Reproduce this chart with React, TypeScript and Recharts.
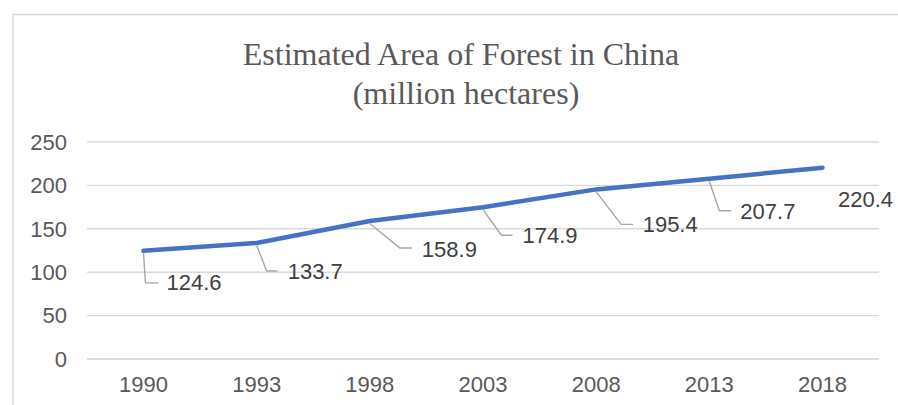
import React from "react";
import { LineChart, Line, XAxis, YAxis, CartesianGrid } from "recharts";

const years = ["1990", "1993", "1998", "2003", "2008", "2013", "2018"];
const forestArea = [124.6, 133.7, 158.9, 174.9, 195.4, 207.7, 220.4];
const yTicks = [0, 50, 100, 150, 200, 250];
const titleLines = ["Estimated Area of Forest in China", "(million hectares)"];

const data = years.map((year, i) => ({ year, area: forestArea[i] }));

// Label layout relative to each computed point: [elbowDx, elbowDy, lineEndDx, textDx, textDy, showLeader]
const labelLayout: [number, number, number, number, number, boolean][] = [
  [2, 32, 15, 23, 32, true],
  [10, 28, 21, 31, 29, true],
  [30, 27, 42, 52, 28, true],
  [18.5, 28, 29.5, 39.5, 28, true],
  [25, 35, 37, 46.5, 35.5, true],
  [10, 32, 22, 31, 33, true],
  [0, 0, 0, 15.5, 31.5, false],
];

const SANS = "'Liberation Sans', Arial, sans-serif";
const SERIF = "'Liberation Serif', 'Times New Roman', serif";

const DataLabel = (props: any) => {
  const { x, y, value, index } = props;
  const l = labelLayout[index];
  if (!l) return null;
  const [ex, ey, hx, tx, ty, show] = l;
  return (
    <g>
      {show && (
        <polyline
          points={`${x},${y + 2.5} ${x + ex},${y + ey} ${x + hx},${y + ey}`}
          fill="none"
          stroke="#A6A6A6"
          strokeWidth={1.4}
        />
      )}
      <text
        x={x + tx}
        y={y + ty}
        textAnchor="start"
        dominantBaseline="central"
        fontFamily={SANS}
        fontSize={22}
        fill="#404040"
      >
        {value}
      </text>
    </g>
  );
};

export default function App() {
  return (
    <div
      style={{
        position: "fixed",
        left: 0,
        top: 0,
        width: 898,
        height: 405,
        overflow: "hidden",
        background: "#fff",
      }}
    >
      <svg
        width={898}
        height={405}
        style={{ position: "absolute", left: 0, top: 0 }}
      >
        <rect x={13} y={14.5} width={1000} height={1000} fill="#fff" stroke="#D9D9D9" strokeWidth={1.5} />
        <text x={461} y={65} textAnchor="middle" fontFamily={SERIF} fontSize={32} fill="#595959">
          {titleLines[0]}
        </text>
        <text x={466} y={104} textAnchor="middle" fontFamily={SERIF} fontSize={32} fill="#595959">
          {titleLines[1]}
        </text>
      </svg>
      <div style={{ position: "absolute", left: 0, top: 0 }}>
        <LineChart
          width={898}
          height={405}
          data={data}
          margin={{ top: 142, right: 19, bottom: 0, left: 0 }}
        >
          <CartesianGrid vertical={false} stroke="#D9D9D9" strokeWidth={1.4} />
          <XAxis
            dataKey="year"
            padding={{ left: 56.5, right: 56.5 }}
            axisLine={{ stroke: "#D9D9D9", strokeWidth: 1.4 }}
            tickLine={false}
            tickSize={0}
            tickMargin={17}
            tick={{ fontFamily: SANS, fontSize: 22, fill: "#595959" }}
            height={46}
          />
          <YAxis
            width={87}
            domain={[0, 250]}
            ticks={yTicks}
            axisLine={false}
            tickLine={false}
            tickSize={0}
            tickMargin={20}
            tick={{ fontFamily: SANS, fontSize: 22, fill: "#595959" }}
          />
          <Line
            type="linear"
            dataKey="area"
            stroke="#4472C4"
            strokeWidth={4.5}
            strokeLinecap="round"
            strokeLinejoin="round"
            dot={false}
            activeDot={false}
            isAnimationActive={false}
            label={<DataLabel />}
          />
        </LineChart>
      </div>
    </div>
  );
}
